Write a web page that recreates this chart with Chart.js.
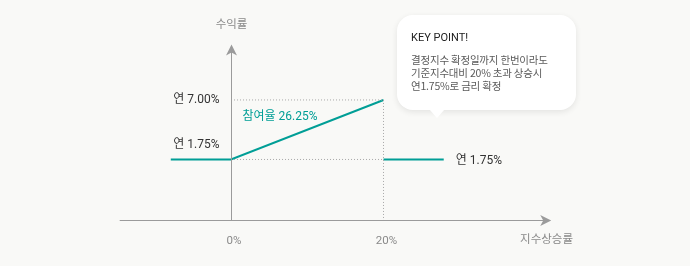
<!DOCTYPE html>
<html>
<head>
<meta charset="UTF-8">
<style>
body {
	margin: 0;
	background-color: #f9f9f7;
	font-family: Roboto, "Noto Sans CJK KR", sans-serif;
}

.wrap {
	position: relative;
	width: 690px;
	height: 266px;
}

.callout {
	position: absolute;
	left: 397px;
	top: 15px;
	width: 179px;
	height: 95px;
	background: #fff;
	border-radius: 16px;
	box-shadow: 0 2px 6px rgba(0, 0, 0, 0.09);
	box-sizing: border-box;
	padding: 0 0 0 14px;
}

.callout:after {
	content: "";
	position: absolute;
	left: 33px;
	bottom: -8px;
	border-left: 7px solid transparent;
	border-right: 7px solid transparent;
	border-top: 8px solid #fff;
}

.callout h4 {
	margin: 0;
	position: absolute;
	top: 16px;
	font-size: 11px;
	line-height: 14px;
	font-weight: 400;
	color: #222;
}

.callout p {
	margin: 0;
	position: absolute;
	top: 38px;
	font-size: 10.5px;
	line-height: 13px;
	color: #5a5a5a;
	letter-spacing: -0.2px;
	font-family: "Noto Sans CJK KR", sans-serif;
}
</style>
<title>참여율</title>
<script src="https://cdnjs.cloudflare.com/ajax/libs/Chart.js/4.4.1/chart.umd.min.js"></script>
</head>

<body>
	<div class="wrap">
		<canvas id="myChart" width="690" height="266"></canvas>
		<div class="callout">
			<h4>KEY POINT!</h4>
			<p>결정지수 확정일까지 한번이라도<br>기준지수대비 20% 초과 상승시<br>연1.75%로 금리 확정</p>
		</div>
	</div>

	<script>
		// payoff pieces (x: 지수상승률 %, y: 수익률 %)
		var floorX = [-7.9, 0];
		var floorY = [1.75, 1.75];
		var riseX = [0, 20];
		var riseY = [1.75, 7.0];
		var capX = [20, 27.9];
		var capY = [1.75, 1.75];

		var xTicks = [0, 20];
		var xTickLabels = ["0%", "20%"];
		var axisX = [-14.6, 42];
		var axisY = [-3.6, 11.9];

		var minRate = 1.75;
		var maxRate = 7.0;
		var partLabel = "참여율 26.25%";

		var teal = "#009e96";

		function pts(xs, ys) {
			var out = [];
			for (var i = 0; i < xs.length; i++) {
				out.push({ x : xs[i], y : ys[i] });
			}
			return out;
		}

		function arrow(ctx, x, y, dir) {
			// dir: "up" or "right"
			ctx.beginPath();
			if (dir == "up") {
				ctx.moveTo(x, y);
				ctx.lineTo(x + 5.5, y + 11);
				ctx.lineTo(x, y + 8);
				ctx.lineTo(x - 5.5, y + 11);
			} else {
				ctx.moveTo(x, y);
				ctx.lineTo(x - 11, y - 5.5);
				ctx.lineTo(x - 8, y);
				ctx.lineTo(x - 11, y + 5.5);
			}
			ctx.closePath();
			ctx.fill();
		}

		var drawExtras = {
			id : "extras",
			afterDatasetsDraw : function(chart) {
				var ctx = chart.ctx;
				var sx = chart.scales.x;
				var sy = chart.scales.y;
				var x0 = Math.round(sx.getPixelForValue(0)) + 0.5;
				var yb = Math.round(sy.getPixelForValue(axisY[0])) + 0.5;
				var yt = sy.getPixelForValue(axisY[1]);
				var xl = sx.getPixelForValue(axisX[0]);
				var xr = sx.getPixelForValue(axisX[1]);

				ctx.save();
				ctx.strokeStyle = "#9b9b9b";
				ctx.fillStyle = "#9b9b9b";
				ctx.lineWidth = 1;
				ctx.beginPath();
				ctx.moveTo(x0, yb);
				ctx.lineTo(x0, yt + 6);
				ctx.moveTo(xl, yb);
				ctx.lineTo(xr - 6, yb);
				ctx.stroke();
				arrow(ctx, x0, yt, "up");
				arrow(ctx, xr, yb, "right");

				ctx.textBaseline = "middle";
				ctx.font = "11.5px Roboto, 'Noto Sans CJK KR'";
				ctx.fillStyle = "#8a8a8a";
				ctx.textAlign = "center";
				ctx.fillText("수익률", x0, 25);
				for (var i = 0; i < xTicks.length; i++) {
					ctx.fillText(xTickLabels[i], sx.getPixelForValue(xTicks[i]) + 3, 241);
				}
				ctx.textAlign = "right";
				ctx.fillText("지수상승률", 573, 240);

				ctx.font = "12px Roboto, 'Noto Sans CJK KR'";
				ctx.fillStyle = "#333";
				ctx.textAlign = "right";
				ctx.fillText("연 " + maxRate.toFixed(2) + "%", x0 - 12, sy.getPixelForValue(maxRate));
				ctx.fillText("연 " + minRate.toFixed(2) + "%", x0 - 12, sy.getPixelForValue(minRate) - 14);
				ctx.textAlign = "left";
				ctx.fillText("연 " + minRate.toFixed(2) + "%", sx.getPixelForValue(capX[1]) + 12,
						sy.getPixelForValue(minRate) + 1.5);

				ctx.font = "12px Roboto, 'Noto Sans CJK KR'";
				ctx.fillStyle = teal;
				ctx.fillText(partLabel, x0 + 11, sy.getPixelForValue(maxRate) + 17);
				ctx.restore();
			}
		};

		var dotted = {
			borderColor : "#a8a8a8",
			borderWidth : 1,
			borderDash : [ 1, 2 ],
			pointRadius : 0,
			showLine : true,
			fill : false
		};

		var datasets = [
			Object.assign({ data : pts([ riseX[0], riseX[1] ], [ maxRate, maxRate ]) }, dotted),
			Object.assign({ data : pts([ riseX[0], riseX[1] ], [ minRate, minRate ]) }, dotted),
			Object.assign({ data : pts([ riseX[1], riseX[1] ], [ maxRate, axisY[0] ]) }, dotted),
			{
				data : pts(floorX.concat(riseX.slice(1)), floorY.concat(riseY.slice(1))),
				borderColor : teal,
				borderWidth : 2,
				pointRadius : 0,
				showLine : true,
				fill : false
			}, {
				data : pts(capX, capY),
				borderColor : teal,
				borderWidth : 2,
				pointRadius : 0,
				showLine : true,
				fill : false
			} ];

		var myChart = new Chart(document.getElementById("myChart"), {
			type : "scatter",
			data : { datasets : datasets },
			plugins : [ drawExtras ],
			options : {
				responsive : false,
				animation : false,
				layout : { padding : 0 },
				plugins : {
					legend : { display : false },
					tooltip : { enabled : false }
				},
				scales : {
					x : { type : "linear", display : false, min : -30.3, max : 60.2 },
					y : { type : "linear", display : false, min : -7.65, max : 15.82 }
				}
			}
		});
	</script>
</body>
</html>
